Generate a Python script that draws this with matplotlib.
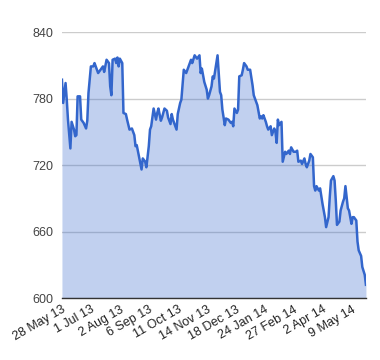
import matplotlib
matplotlib.use('Agg')
import matplotlib.pyplot as plt

plt.rcParams['font.family'] = ['Liberation Sans', 'DejaVu Sans']

# trading-day index and closing value
day = [0, 1, 3, 4, 5, 7, 8, 10, 11, 12, 13, 15, 16, 18, 20, 21, 22, 24, 26, 27,
       29, 30, 32, 34, 35, 37, 39, 40, 41, 42, 44, 45, 46, 47, 48, 50, 51, 53, 54, 56,
       58, 60, 61, 62, 64, 66, 67, 69, 70, 72, 73, 74, 76, 77, 78, 79, 80, 82, 83, 85,
       87, 88, 90, 91, 92, 95, 96, 98, 99, 101, 103, 105, 107, 108, 110, 112, 114, 115, 116, 118,
       120, 121, 122, 124, 125, 126, 128, 129, 131, 132, 133, 135, 136, 138, 140, 141, 142, 143, 145, 146,
       147, 149, 150, 151, 153, 154, 156, 158, 159, 160, 162, 164, 165, 166, 167, 169, 170, 171, 173, 174,
       176, 177, 178, 179, 180, 182, 183, 185, 186, 188, 189, 190, 192, 194, 195, 196, 198, 199, 201, 202,
       203, 205, 206, 208, 209, 210, 211, 213, 214, 216, 218, 219, 221, 222, 223, 225, 226, 227, 228, 230,
       231, 233, 234, 235, 237, 238, 240, 241, 242, 244, 245, 246, 248, 249, 251, 252]
price = [797, 776, 794, 779, 761, 735, 759, 752, 746, 747, 782, 782, 761, 758, 753, 760, 785, 809, 809, 812,
         806, 803, 806, 809, 804, 815, 812, 791, 783, 815, 816, 812, 817, 809, 816, 812, 767, 766, 761, 752,
         753, 747, 737, 738, 727, 716, 726, 723, 718, 737, 752, 755, 771, 766, 761, 767, 771, 760, 763, 771,
         769, 763, 757, 766, 761, 752, 766, 776, 779, 806, 803, 809, 815, 812, 819, 816, 819, 803, 807, 795,
         788, 780, 783, 791, 800, 798, 812, 819, 786, 783, 770, 756, 762, 761, 758, 759, 755, 771, 767, 770,
         800, 801, 806, 812, 809, 806, 806, 792, 783, 780, 774, 762, 764, 762, 765, 759, 755, 752, 755, 747,
         753, 750, 740, 761, 756, 759, 723, 732, 730, 733, 730, 736, 732, 732, 733, 723, 724, 721, 726, 721,
         718, 724, 730, 727, 701, 697, 701, 697, 699, 685, 673, 664, 673, 691, 706, 710, 706, 688, 666, 669,
         679, 687, 690, 701, 681, 679, 667, 673, 673, 670, 651, 643, 638, 628, 621, 612]

tick_labels = ['28 May 13', '1 Jul 13', '2 Aug 13', '6 Sep 13', '11 Oct 13', '14 Nov 13',
               '18 Dec 13', '24 Jan 14', '27 Feb 14', '2 Apr 14', '9 May 14']
y_ticks = [600, 660, 720, 780, 840]

fig = plt.figure(figsize=(3.8, 3.6), dpi=100)
ax = fig.add_axes([0.163, 0.172, 0.8, 0.739])

ax.fill_between(day, price, 600, color='#3366cc', alpha=0.3, linewidth=0, zorder=2)
ax.plot(day, price, color='#3366cc', linewidth=1.8, solid_joinstyle='round', zorder=3)

ax.set_xlim(0, 252)
ax.set_ylim(600, 840)
ax.set_yticks(y_ticks)
ax.set_yticklabels([str(v) for v in y_ticks], fontsize=9, color='#444444')
ax.set_xticks(range(0, 24 * len(tick_labels), 24))
ax.set_xticklabels(tick_labels, rotation=30, ha='right', rotation_mode='anchor',
                   fontsize=9, color='#222222')
ax.tick_params(length=0, pad=6)
ax.tick_params(axis='x', pad=4)

ax.grid(axis='y', color='#cccccc', linewidth=1, zorder=1)
ax.set_axisbelow(True)
for s in ['top', 'right', 'left']:
    ax.spines[s].set_visible(False)
ax.spines['bottom'].set_color('#333333')
ax.spines['bottom'].set_linewidth(1)
ax.spines['bottom'].set_zorder(4)

fig.savefig('out.png', dpi=100)
